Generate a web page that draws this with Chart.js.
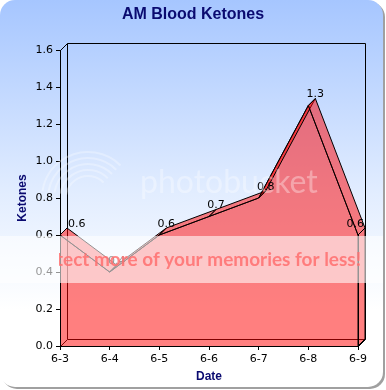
<!DOCTYPE html>
<html>
<head>
<meta charset="utf-8">
<script src="https://cdn.jsdelivr.net/npm/chart.js@4/dist/chart.umd.min.js"></script>
<style>
html,body{margin:0;padding:0;background:#fff;}
canvas{display:block;}
</style>
</head>
<body>
<canvas id="c" width="386" height="390"></canvas>
<script>
// ---- data ----
const categories = ['6-3', '6-4', '6-5', '6-6', '6-7', '6-8', '6-9'];
const ketones = [0.6, 0.4, 0.6, 0.7, 0.8, 1.3, 0.6];
const yMin = 0.0;
const yMax = 1.6;
const yStep = 0.2;
const chartTitle = 'AM Blood Ketones';
const xTitle = 'Date';
const yTitle = 'Ketones';
const watermarkLine = 'protect more of your memories for less!';
const watermarkVisible = 'ect more of your memories for less!';
const watermarkLogo = 'photobucket';

// ---- style ----
const DX = 7, DY = -7;
const FILL = 'rgba(255,0,0,0.5)';
const NAVY = '#0a0a70';
const FONT = '"DejaVu Sans", sans-serif';

function rr(ctx, x, y, w, h, r) {
  ctx.beginPath();
  ctx.moveTo(x + r, y);
  ctx.lineTo(x + w - r, y);
  ctx.arcTo(x + w, y, x + w, y + r, r);
  ctx.lineTo(x + w, y + h - r);
  ctx.arcTo(x + w, y + h, x + w - r, y + h, r);
  ctx.lineTo(x + r, y + h);
  ctx.arcTo(x, y + h, x, y + h - r, r);
  ctx.lineTo(x, y + r);
  ctx.arcTo(x, y, x + r, y, r);
  ctx.closePath();
}

const threeD = {
  id: 'threeD',
  beforeDraw(chart) {
    const ctx = chart.ctx;
    ctx.save();
    ctx.fillStyle = '#fff';
    ctx.fillRect(0, 0, chart.width, chart.height);
    ctx.fillStyle = '#a0a0a0';
    rr(ctx, 2, 2, 383, 387, 15);
    ctx.fill();
    const g = ctx.createLinearGradient(0, 0, 0, 387);
    g.addColorStop(0, 'rgb(166,198,255)');
    g.addColorStop(0.5, 'rgb(226,237,255)');
    g.addColorStop(0.8, 'rgb(255,255,255)');
    g.addColorStop(1, 'rgb(255,255,255)');
    ctx.fillStyle = g;
    rr(ctx, 0, 0, 383, 387, 15);
    ctx.fill();
    ctx.restore();
  },
  beforeDatasetsDraw(chart) {
    const ctx = chart.ctx, a = chart.chartArea;
    ctx.save();
    ctx.strokeStyle = '#000';
    ctx.lineWidth = 1;
    ctx.beginPath();
    ctx.rect(Math.round(a.left + DX) + 0.5, Math.round(a.top + DY) + 0.5,
             Math.round(a.right - a.left), Math.round(a.bottom - a.top));
    ctx.moveTo(a.left + 0.5, a.top + 0.5); ctx.lineTo(a.left + DX + 0.5, a.top + DY + 0.5);
    ctx.moveTo(a.left + 0.5, a.bottom + 0.5); ctx.lineTo(a.left + DX + 0.5, a.bottom + DY + 0.5);
    ctx.moveTo(a.right + 0.5, a.bottom + 0.5); ctx.lineTo(a.right + DX + 0.5, a.bottom + DY + 0.5);
    ctx.stroke();
    ctx.restore();
  },
  afterDatasetsDraw(chart) {
    const ctx = chart.ctx, a = chart.chartArea;
    const xs = chart.scales.x, ys = chart.scales.y;
    const pts = ketones.map((v, i) => ({ x: xs.getPixelForValue(i), y: ys.getPixelForValue(v) }));
    const base = ys.getPixelForValue(yMin);
    ctx.save();
    ctx.lineWidth = 1;
    ctx.strokeStyle = '#000';
    ctx.lineJoin = 'round';
    for (let i = 0; i < pts.length - 1; i++) {
      const p = pts[i], q = pts[i + 1];
      ctx.beginPath();
      ctx.moveTo(p.x, p.y);
      ctx.lineTo(q.x, q.y);
      ctx.lineTo(q.x + DX, q.y + DY);
      ctx.lineTo(p.x + DX, p.y + DY);
      ctx.closePath();
      ctx.fillStyle = FILL;
      ctx.fill();
      ctx.stroke();
    }
    const l = pts[pts.length - 1];
    ctx.beginPath();
    ctx.moveTo(l.x, l.y);
    ctx.lineTo(l.x + DX, l.y + DY);
    ctx.lineTo(l.x + DX, base + DY);
    ctx.lineTo(l.x, base);
    ctx.closePath();
    ctx.fillStyle = FILL;
    ctx.fill();
    ctx.stroke();
    ctx.beginPath();
    ctx.moveTo(pts[0].x + 0.5, base);
    ctx.lineTo(pts[0].x + 0.5, pts[0].y);
    ctx.moveTo(l.x + 0.5, l.y);
    ctx.lineTo(l.x + 0.5, base);
    ctx.stroke();
    ctx.fillStyle = '#000';
    ctx.font = '11px ' + FONT;
    ctx.textBaseline = 'alphabetic';
    ketones.forEach((v, i) => {
      const t = v.toFixed(1);
      const w = ctx.measureText(t).width;
      let left = pts[i].x + DX - w / 2;
      left = Math.max(left, a.left + DX + 1);
      left = Math.min(left, a.right + DX - 1 - w);
      ctx.textAlign = 'left';
      ctx.fillText(t, left, pts[i].y + DY - 1.5);
    });
    ctx.restore();
  },
  afterDraw(chart) {
    const ctx = chart.ctx, a = chart.chartArea;
    ctx.save();
    ctx.fillStyle = NAVY;
    ctx.textAlign = 'center';
    ctx.textBaseline = 'middle';
    ctx.font = 'bold 16px "Liberation Sans", Arial, sans-serif';
    ctx.fillText(chartTitle, 193, 15);
    ctx.font = 'bold 12px "Liberation Sans", Arial, sans-serif';
    ctx.fillText(xTitle, (a.left + a.right) / 2, 377);
    ctx.save();
    ctx.translate(23, (a.top + a.bottom) / 2);
    ctx.rotate(-Math.PI / 2);
    ctx.fillText(yTitle, 0, 0);
    ctx.restore();

    // watermark logo
    ctx.strokeStyle = 'rgba(255,255,255,0.3)';
    ctx.lineWidth = 2;
    for (let r = 22; r <= 46; r += 6) {
      ctx.beginPath();
      ctx.arc(88, 198, r, Math.PI * 1.05, Math.PI * 1.75);
      ctx.stroke();
    }
    ctx.fillStyle = 'rgba(255,255,255,0.35)';
    ctx.font = '32px Lato, sans-serif';
    ctx.textAlign = 'left';
    ctx.textBaseline = 'alphabetic';
    ctx.fillText(watermarkLogo, 140, 193);

    // watermark band
    ctx.fillStyle = 'rgba(255,255,255,0.58)';
    ctx.fillRect(0, 236, 383, 47);
    ctx.save();
    ctx.beginPath();
    ctx.rect(59, 236, 320, 47);
    ctx.clip();
    ctx.fillStyle = 'rgba(255,110,110,0.85)';
    ctx.font = 'bold 18px Lato, sans-serif';
    const sx = 298 / ctx.measureText(watermarkVisible).width;
    ctx.translate(361, 266);
    ctx.scale(sx, 1);
    ctx.textAlign = 'right';
    ctx.fillText(watermarkLine, 0, 0);
    ctx.restore();
    ctx.restore();
  }
};

new Chart(document.getElementById('c'), {
  type: 'line',
  data: {
    labels: categories,
    datasets: [{
      data: ketones,
      fill: 'origin',
      backgroundColor: FILL,
      borderColor: '#000',
      borderWidth: 1,
      pointRadius: 0,
      tension: 0
    }]
  },
  plugins: [threeD],
  options: {
    responsive: false,
    animation: false,
    devicePixelRatio: 1,
    layout: { padding: { top: 50, right: 28, bottom: 0, left: 0 } },
    plugins: { legend: { display: false }, title: { display: false }, tooltip: { enabled: false } },
    scales: {
      x: {
        type: 'category',
        offset: false,
        afterFit(s) { s.height = 44; },
        grid: { drawOnChartArea: false, drawTicks: true, tickLength: 4, color: '#000' },
        border: { display: true, color: '#000' },
        ticks: { color: '#000', font: { family: FONT, size: 11 }, padding: 3, maxRotation: 0, autoSkip: false }
      },
      y: {
        min: yMin,
        max: yMax,
        afterFit(s) { s.width = 60; },
        grid: { drawOnChartArea: false, drawTicks: true, tickLength: 4, color: '#000' },
        border: { display: true, color: '#000' },
        ticks: { stepSize: yStep, color: '#000', font: { family: FONT, size: 11 }, padding: 3,
                 callback: v => Number(v).toFixed(1) }
      }
    }
  }
});
</script>
</body>
</html>
